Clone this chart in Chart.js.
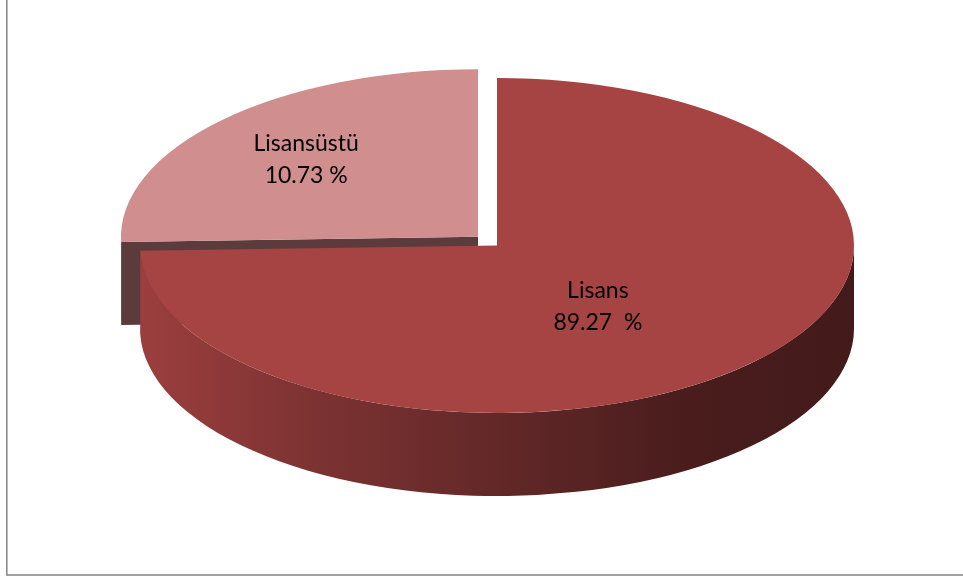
<!DOCTYPE html>
<html>
<head>
<meta charset="utf-8">
<script src="https://cdn.jsdelivr.net/npm/chart.js@4.4.1/dist/chart.umd.min.js"></script>
<style>
  html, body { margin: 0; padding: 0; background: #fff; }
  canvas { display: block; }
</style>
</head>
<body>
<canvas id="grafico" width="963" height="579"></canvas>
<script>
const categorias = ["Lisans", "Lisansüstü"];
// slice sizes as they are drawn in the picture
const fatias = [74.5, 25.5];
// percentages printed on the slices
const rotulos = ["89.27  %", "10.73 %"];

const corTopo = ["#a64444", "#d08e8e"];

// maps the flat pie circle onto the tilted ellipse of the top face
function pegaTransf(chart, prof) {
  const a = chart.chartArea;
  const arc = chart.getDatasetMeta(0).data[0];
  const R = arc.outerRadius;
  const rx = a.width / 2;
  const ry = (a.height - prof) / 2;
  return {
    ax: arc.x, ay: arc.y, R: R,
    ex: (a.left + a.right) / 2, ey: a.top + ry,
    sx: rx / R, sy: ry / R
  };
}

function desloc(el) {
  const o = (el.options.offset || 0) / 4;
  const h = (el.startAngle + el.endAngle) / 2;
  return { x: Math.cos(h) * o, y: Math.sin(h) * o };
}

const pizza3d = {
  id: "pizza3d",
  beforeDatasetsDraw(chart, args, opts) {
    const ctx = chart.ctx;
    const t = pegaTransf(chart, opts.profundidade);
    const d = opts.profundidade / t.sy;
    const R = t.R;
    ctx.save();
    ctx.translate(t.ex, t.ey);
    ctx.scale(t.sx, t.sy);
    ctx.translate(-t.ax, -t.ay);

    const arcs = chart.getDatasetMeta(0).data.map((el, i) => ({ el, i }));
    // back slices first
    arcs.sort((p, q) => {
      const hp = (p.el.startAngle + p.el.endAngle) / 2;
      const hq = (q.el.startAngle + q.el.endAngle) / 2;
      return Math.sin(hp) - Math.sin(hq);
    });

    arcs.forEach(({ el, i }) => {
      const off = desloc(el);
      const cx = el.x + off.x, cy = el.y + off.y;
      const s = el.startAngle, e = el.endAngle;
      const cor = opts.corLado[i];

      // cut faces turned towards the viewer
      [[s, s - Math.PI / 2], [e, e + Math.PI / 2]].forEach(([ang, normal]) => {
        if (Math.sin(normal) <= 0.01) return;
        const px = cx + Math.cos(ang) * R, py = cy + Math.sin(ang) * R;
        ctx.beginPath();
        ctx.moveTo(cx, cy);
        ctx.lineTo(px, py);
        ctx.lineTo(px, py + d);
        ctx.lineTo(cx, cy + d);
        ctx.closePath();
        ctx.fillStyle = opts.corCorte[i];
        ctx.fill();
      });

      // outer wall, only the front half shows
      for (let k = -1; k <= 1; k++) {
        const a1 = Math.max(s, k * 2 * Math.PI);
        const a2 = Math.min(e, k * 2 * Math.PI + Math.PI);
        if (a2 <= a1) continue;
        let fill = cor;
        if (Array.isArray(cor)) {
          const g = ctx.createLinearGradient(cx - R, 0, cx + R, 0);
          cor.forEach((c, j) => g.addColorStop(j / (cor.length - 1), c));
          fill = g;
        }
        ctx.beginPath();
        ctx.arc(cx, cy, R, a1, a2);
        ctx.lineTo(cx + Math.cos(a2) * R, cy + Math.sin(a2) * R + d);
        ctx.arc(cx, cy + d, R, a2, a1, true);
        ctx.closePath();
        ctx.fillStyle = fill;
        ctx.fill();
      }
    });
  },
  afterDatasetsDraw(chart) {
    chart.ctx.restore();
  },
  afterDraw(chart, args, opts) {
    const ctx = chart.ctx;
    const t = pegaTransf(chart, opts.profundidade);
    ctx.save();
    ctx.font = opts.fonte;
    ctx.fillStyle = "#000";
    ctx.textAlign = "center";
    ctx.textBaseline = "alphabetic";
    chart.getDatasetMeta(0).data.forEach((el, i) => {
      const off = desloc(el);
      const [f, giro] = opts.posRotulo[i];
      const h = (el.startAngle + el.endAngle) / 2 + giro * Math.PI / 180;
      const px = el.x + off.x + Math.cos(h) * f * t.R;
      const py = el.y + off.y + Math.sin(h) * f * t.R;
      const X = t.ex + (px - t.ax) * t.sx;
      const Y = t.ey + (py - t.ay) * t.sy;
      ctx.fillText(categorias[i], X, Y - 16 + 8);
      ctx.fillText(rotulos[i], X, Y + 16 + 8);
    });
    // frame
    ctx.strokeStyle = "#8a8a8a";
    ctx.lineWidth = 1.6;
    ctx.strokeRect(6.8, -10, 1000, 585);
    ctx.restore();
  }
};

new Chart(document.getElementById("grafico"), {
  type: "pie",
  data: {
    labels: categorias,
    datasets: [
      {
        data: fatias,
        backgroundColor: corTopo,
        borderWidth: 0,
        offset: [0, 54],
      },
    ],
  },
  options: {
    responsive: false,
    animation: false,
    layout: { padding: { left: 140, right: 109, top: 78, bottom: 83 } },
    plugins: {
      legend: { display: false },
      tooltip: { enabled: false },
      pizza3d: {
        profundidade: 83,
        corLado: [["#9c3e3e", "#7c3232", "#632828", "#4b1d1d", "#431a1a"], "#5b3b3b"],
        corCorte: ["#5b3b3b", "#5b3b3b"],
        posRotulo: [[0.46, 8], [0.67, 0]],
        fonte: "23px Lato",
      },
    },
  },
  plugins: [pizza3d],
});
</script>
</body>
</html>
